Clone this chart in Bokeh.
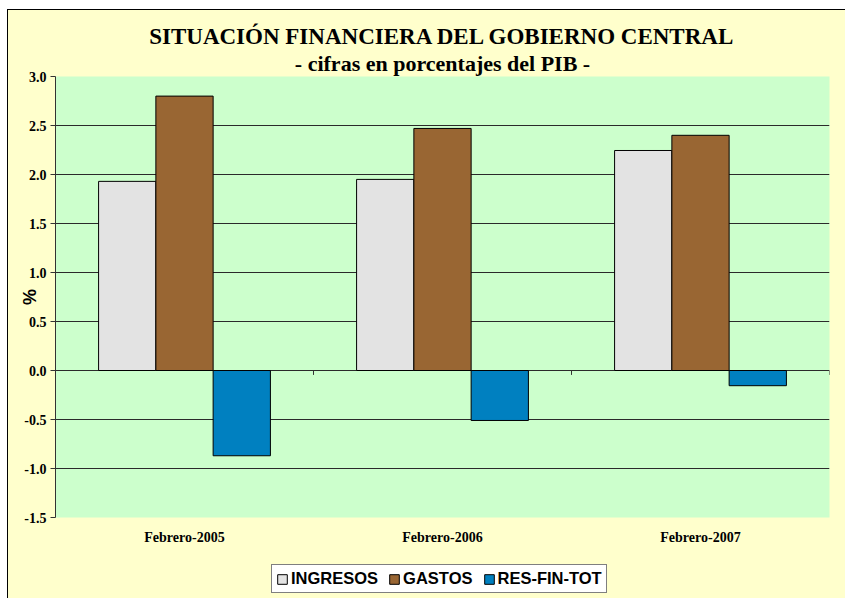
from bokeh.plotting import figure
from bokeh.layouts import column
from bokeh.models import (Range1d, Title, Legend, LegendItem, FixedTicker,
                          ColumnDataSource, NumeralTickFormatter)
from bokeh.embed import file_html
from bokeh.resources import INLINE

categories = ["Febrero-2005", "Febrero-2006", "Febrero-2007"]
ingresos = [1.93, 1.95, 2.245]
gastos = [2.80, 2.47, 2.40]
res_fin_tot = [-0.87, -0.51, -0.155]
series_names = ["INGRESOS", "GASTOS", "RES-FIN-TOT"]
series_colors = ["#E3E3E3", "#996633", "#0080C0"]
y_ticks = [-1.5, -1.0, -0.5, 0.0, 0.5, 1.0, 1.5, 2.0, 2.5, 3.0]

serif = "Liberation Serif"
sans = "Liberation Sans"
BG = "#FFFFCC"

p = figure(width=837, height=537, output_backend="svg", toolbar_location=None,
           x_range=Range1d(0, len(categories)), y_range=Range1d(-1.5, 3.0),
           min_border_left=47, min_border_right=16, min_border_top=66,
           min_border_bottom=28)
p.background_fill_color = "#CCFFCC"
p.border_fill_color = BG
p.outline_line_color = None

centers = [i + 0.5 for i in range(len(categories))]
bw = 0.222
offsets = [-bw, 0.0, bw]
sources = []
for vals, off, col in zip([ingresos, gastos, res_fin_tot], offsets, series_colors):
    src = ColumnDataSource(dict(x=[c + off for c in centers], top=vals,
                                bottom=[0] * len(vals)))
    sources.append(src)
    p.vbar(x="x", top="top", bottom="bottom", width=bw, source=src,
           fill_color=col, line_color="black", line_width=1)

# small category separator ticks on zero line
bounds = list(range(1, len(categories) + 1))
p.segment(x0=bounds, x1=bounds, y0=[0] * len(bounds), y1=[-0.045] * len(bounds),
          line_color="#333333", line_width=1)

# y axis
p.yaxis.ticker = FixedTicker(ticks=y_ticks)
p.yaxis.formatter = NumeralTickFormatter(format="0.0")
p.yaxis.major_label_text_font = serif
p.yaxis.major_label_text_font_style = "bold"
p.yaxis.major_label_text_font_size = "14px"
p.yaxis.major_label_text_color = "black"
p.yaxis.axis_line_color = "#333333"
p.yaxis.major_tick_line_color = "#333333"
p.yaxis.major_tick_out = 5
p.yaxis.major_tick_in = 0
p.yaxis.minor_tick_line_color = None
p.yaxis.major_label_standoff = 4
p.yaxis.axis_label = "%"
p.yaxis.axis_label_text_font = sans
p.yaxis.axis_label_text_font_style = "bold"
p.yaxis.axis_label_text_font_size = "18px"
p.yaxis.axis_label_text_color = "black"
p.yaxis.axis_label_standoff = -19

# x axis
p.xaxis.ticker = FixedTicker(ticks=centers)
p.xaxis.major_label_overrides = {c: n for c, n in zip(centers, categories)}
p.xaxis.major_label_text_font = serif
p.xaxis.major_label_text_font_style = "bold"
p.xaxis.major_label_text_font_size = "14px"
p.xaxis.major_label_text_color = "black"
p.xaxis.axis_line_color = None
p.xaxis.major_tick_line_color = None
p.xaxis.major_tick_out = 0
p.xaxis.major_tick_in = 0
p.xaxis.minor_tick_line_color = None
p.xaxis.major_label_standoff = 12

p.xgrid.grid_line_color = None
p.ygrid.grid_line_color = "#2a2a2a"
p.ygrid.grid_line_width = 1
p.ygrid.ticker = FixedTicker(ticks=y_ticks)

# titles
sub = Title(text="- cifras en porcentajes del PIB -", align="center",
            text_font=serif, text_font_style="bold", text_font_size="22px",
            text_color="black", standoff=1, offset=0)
main = Title(text="SITUACIÓN FINANCIERA DEL GOBIERNO CENTRAL", align="center",
             text_font=serif, text_font_style="bold", text_font_size="23px",
             text_color="black", standoff=0)
p.add_layout(sub, "above")
p.add_layout(main, "above")

# legend strip (swatches drawn from the series sources, outside its view)
lf = figure(width=837, height=51, output_backend="svg", toolbar_location=None,
            x_range=Range1d(100, 101), y_range=Range1d(100, 101),
            x_axis_location=None, y_axis_location=None, min_border=0)
lf.background_fill_color = BG
lf.border_fill_color = BG
lf.outline_line_color = None
lf.xgrid.grid_line_color = None
lf.ygrid.grid_line_color = None
leg_renderers = []
for src, col in zip(sources, series_colors):
    r = lf.vbar(x="x", top="top", bottom="bottom", width=bw, source=src,
                fill_color=col, line_color="black", line_width=1)
    leg_renderers.append(r)

legend = Legend(items=[LegendItem(label=n, renderers=[r])
                       for n, r in zip(series_names, leg_renderers)],
                orientation="horizontal", location=(216, 5))
legend.label_text_font = sans
legend.label_text_font_style = "bold"
legend.label_text_font_size = "16.5px"
legend.label_text_color = "black"
legend.label_standoff = 3
legend.glyph_width = 12
legend.glyph_height = 12
legend.spacing = 10
legend.padding = 4
legend.margin = 0
legend.border_line_color = "black"
legend.border_line_width = 1
legend.background_fill_color = "white"
legend.background_fill_alpha = 1
legend.label_height = 15
lf.add_layout(legend)

layout = column(p, lf, spacing=0)
layout.margin = (9, 0, 0, 7)
layout.styles = {"border": "1px solid black", "background-color": BG}

open("out.html", "w").write(file_html(layout, INLINE))
